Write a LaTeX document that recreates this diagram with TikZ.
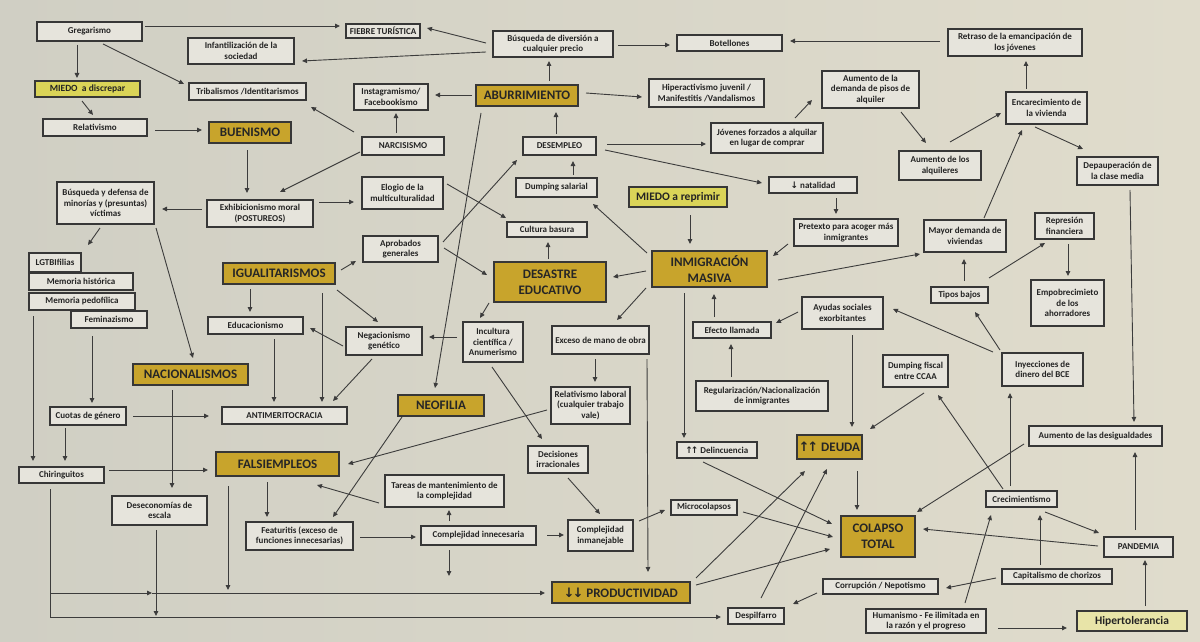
\documentclass[tikz,border=0pt]{standalone}
\usepackage{fontspec}
\setmainfont{Carlito}
\newfontfamily\arrf{DejaVu Sans}
\usetikzlibrary{arrows.meta}
\definecolor{bgl}{RGB}{208,207,196}
\definecolor{bgr}{RGB}{224,220,204}
\definecolor{boxc}{RGB}{230,228,220}
\definecolor{linec}{RGB}{55,55,55}
\definecolor{arrc}{RGB}{60,60,60}
\definecolor{txtc}{RGB}{35,35,35}
\definecolor{goldc}{RGB}{200,164,44}
\definecolor{ylw}{RGB}{218,212,88}
\definecolor{pale}{RGB}{232,228,168}
\tikzset{
 box/.style={draw=linec,line width=1.1pt,fill=boxc,text=txtc,align=center,inner sep=1pt,font=\bfseries\fontsize{9}{10.6}\selectfont},
 gold/.style={box,fill=goldc,text=black!85,font=\bfseries\fontsize{13}{16}\selectfont},
 miedoA/.style={box,fill=ylw,font=\bfseries\fontsize{9.5}{11}\selectfont},
 miedoB/.style={box,fill=ylw,font=\bfseries\fontsize{11.5}{13}\selectfont},
 miedoC/.style={box,fill=pale,font=\bfseries\fontsize{11.5}{13}\selectfont},
 arr/.style={draw=arrc,line width=0.9pt,-{Triangle[length=5pt,width=4.5pt]}},
 ln/.style={draw=arrc,line width=0.9pt},
}
\newcommand\bxn[7]{\node[#1,minimum width=#5pt,minimum height=#6pt] (#2) at (#3,#4) {#7};}
\newcommand\cnx[4]{\draw[arr] ([shift={#2}]#1.center) -- ([shift={#4}]#3.center);}
\newcommand\upup{{\arrf\kern-0.5pt↑\kern-2pt↑}}
\newcommand\dndn{{\arrf\kern-0.5pt↓\kern-2pt↓}}
\begin{document}
\begin{tikzpicture}[x=1pt,y=-1pt]
\useasboundingbox (0,0) rectangle (1200,642);
\fill[left color=bgl,right color=bgr] (0,0) rectangle (1200,642);
% nodes
\bxn{box}{greg}{89.5}{31.5}{105}{19}{Gregarismo}
\bxn{box}{infant}{241}{51}{106}{26}{Infantilización de la\\sociedad}
\bxn{miedoA}{miedo1}{87.5}{89}{105}{16}{MIEDO \ a discrepar}
\bxn{box}{tribal}{247.5}{91.5}{117}{17}{Tribalismos /Identitarismos}
\bxn{box}{relat}{95}{127.5}{104}{17}{Relativismo}
\bxn{gold}{buen}{250}{132.5}{82}{21}{BUENISMO}
\bxn{box}{busq}{105.5}{203}{97}{42}{Búsqueda y defensa de\\minorías y (presuntas)\\víctimas}
\bxn{box}{exhib}{260}{213.5}{106}{27}{Exhibicionismo moral\\(POSTUREOS)}
\bxn{box}{fiebre}{383}{31}{74}{14}{FIEBRE TURÍSTICA}
\bxn{box}{divers}{553}{44}{120}{26}{Búsqueda de diversión a\\cualquier precio}
\bxn{box}{insta}{391}{97}{74}{26}{Instagramismo/\\Facebookismo}
\bxn{gold}{abur}{527}{95.5}{102}{21}{ABURRIMIENTO}
\bxn{box}{narc}{403}{146}{82}{18}{NARCISISMO}
\bxn{box}{desem}{559.5}{146}{73}{18}{DESEMPLEO}
\bxn{box}{elogio}{402.5}{193}{81}{32}{Elogio de la\\multiculturalidad}
\bxn{box}{dumps}{556.5}{187.5}{81}{19}{Dumping salarial}
\bxn{box}{botel}{729.5}{43}{105}{16}{Botellones}
\bxn{box}{hiper}{706.5}{93}{115}{28}{Hiperactivismo juvenil /\\Manifestitis /Vandalismos}
\bxn{box}{demalq}{870.5}{89.5}{97}{37}{Aumento de la\\demanda de pisos de\\alquiler}
\bxn{box}{jovenes}{767}{138}{112}{30}{Jóvenes forzados a alquilar\\en lugar de comprar}
\bxn{box}{natal}{813}{185}{88}{16}{{\arrf↓} natalidad}
\bxn{miedoB}{miedo2}{678}{197}{98}{20}{MIEDO a reprimir}
\bxn{box}{retraso}{1015}{42.5}{134}{27}{Retraso de la emancipación de\\los jóvenes}
\bxn{box}{encar}{1046.5}{108}{81}{32}{Encarecimiento de\\la vivienda}
\bxn{box}{aumalq}{940}{165.5}{82}{29}{Aumento de los\\alquileres}
\bxn{box}{depaup}{1117.5}{171}{81}{28}{Depauperación de\\la clase media}
\bxn{box}{lgtb}{55}{262.5}{52}{19}{LGTBIfilias}
\bxn{box}{memh}{81}{281.5}{104}{17}{Memoria histórica}
\bxn{box}{memp}{82}{301.5}{106}{17}{Memoria pedofílica}
\bxn{box}{femi}{109}{319.5}{76}{17}{Feminazismo}
\bxn{gold}{igual}{279}{273.5}{112}{21}{IGUALITARISMOS}
\bxn{box}{educ}{255.5}{325.5}{95}{17}{Educacionismo}
\bxn{gold}{nacio}{190.5}{374.5}{115}{21}{NACIONALISMOS}
\bxn{box}{cuotas}{88}{416}{76}{18}{Cuotas de género}
\bxn{box}{antim}{284.5}{415.5}{125}{17}{ANTIMERITOCRACIA}
\bxn{box}{cultura}{547}{229.5}{80}{15}{Cultura basura}
\bxn{box}{aprob}{400.5}{249}{75}{26}{Aprobados\\generales}
\bxn{gold}{desas}{550}{282}{112}{40}{DESASTRE\\EDUCATIVO}
\bxn{box}{negac}{384}{341}{76}{28}{Negacionismo\\genético}
\bxn{box}{incult}{493}{342}{60}{40}{Incultura\\científica /\\Anumerismo}
\bxn{gold}{neof}{441}{405.5}{86}{21}{NEOFILIA}
\bxn{box}{exceso}{600.5}{340}{97}{28}{Exceso de mano de obra}
\bxn{box}{rellab}{590.5}{405.5}{79}{37}{Relativismo laboral\\(cualquier trabajo\\vale)}
\bxn{gold}{inmig}{709.5}{269}{115}{36}{INMIGRACIÓN\\MASIVA}
\bxn{box}{pretex}{846}{232.5}{104}{27}{Pretexto para acoger más\\inmigrantes}
\bxn{box}{ayudas}{842.5}{313}{81}{32}{Ayudas sociales\\exorbitantes}
\bxn{box}{efecto}{732}{330}{78}{16}{Efecto llamada}
\bxn{box}{regul}{762}{396}{132}{30}{Regularización/Nacionalización\\de inmigrantes}
\bxn{box}{mayor}{965}{236}{82}{32}{Mayor demanda de\\viviendas}
\bxn{box}{repres}{1064.5}{226}{59}{26}{Represión\\financiera}
\bxn{box}{tipos}{959.5}{295}{57}{16}{Tipos bajos}
\bxn{box}{empob}{1067.5}{303}{73}{46}{Empobrecimieto\\de los\\ahorradores}
\bxn{box}{dumpf}{915.5}{371}{65}{32}{Dumping fiscal\\entre CCAA}
\bxn{box}{inyec}{1042.5}{369.5}{81}{33}{Inyecciones de\\dinero del BCE}
\bxn{box}{desig}{1095.5}{436}{133}{20}{Aumento de las desigualdades}
\bxn{box}{chir}{61.5}{475}{85}{16}{Chiringuitos}
\bxn{gold}{falsi}{277.5}{464}{123}{24}{FALSIEMPLEOS}
\bxn{box}{desec}{159.5}{510.5}{95}{29}{Deseconomías de\\escala}
\bxn{box}{featu}{299.5}{536}{107}{28}{Featuritis (exceso de\\funciones innecesarias)}
\bxn{box}{tareas}{444.5}{491}{119}{32}{Tareas de mantenimiento de\\la complejidad}
\bxn{box}{compinn}{478.5}{535.5}{115}{19}{Complejidad innecesaria}
\bxn{box}{decis}{558}{459.5}{60}{27}{Decisiones\\irracionales}
\bxn{box}{compinm}{600.5}{535.5}{65}{31}{Complejidad\\inmanejable}
\bxn{gold}{produc}{621}{592.5}{138}{21}{\dndn\ PRODUCTIVIDAD}
\bxn{box}{delinc}{717}{450}{80}{16}{\upup\ Delincuencia}
\bxn{box}{micro}{704}{507.5}{66}{15}{Microcolapsos}
\bxn{gold}{deuda}{829.5}{447}{65}{24}{\upup\ DEUDA}
\bxn{gold}{colapso}{878}{536.5}{74}{41}{COLAPSO\\TOTAL}
\bxn{box}{corrup}{880.5}{586.5}{115}{15}{Corrupción / Nepotismo}
\bxn{box}{despil}{756}{616}{56}{16}{Despilfarro}
\bxn{box}{human}{926}{621}{120}{24}{Humanismo - Fe ilimitada en\\la razón y el progreso}
\bxn{box}{crec}{1021.5}{499}{71}{16}{Crecimientismo}
\bxn{box}{pandem}{1138.5}{547}{69}{20}{PANDEMIA}
\bxn{box}{capit}{1057}{576.5}{110}{15}{Capitalismo de chorizos}
\bxn{miedoC}{hipert}{1132}{621}{110}{20}{Hipertolerancia}
% free ends
\coordinate (bl) at (50,617);
\coordinate (ml) at (50,593);
\coordinate (mj) at (152,593);
\coordinate (dsb) at (156,616);
\coordinate (fsb) at (228,590);
\coordinate (cib) at (449,576);
% connectors
\cnx{greg}{(55.5,-5.5)}{fiebre}{(-43,-5)}
\cnx{greg}{(-12.5,13.5)}{miedo1}{(-10.5,-11)}
\cnx{greg}{(13.5,12.5)}{tribal}{(-63.5,-7.5)}
\cnx{miedo1}{(-5.5,12)}{relat}{(-2,-12.5)}
\cnx{relat}{(60,2.5)}{buen}{(-48,-2.5)}
\cnx{buen}{(-3,17.5)}{exhib}{(-13,-20.5)}
\cnx{exhib}{(-58,-4.5)}{busq}{(56.5,6)}
\cnx{narc}{(-43,6)}{exhib}{(20,-21.5)}
\cnx{narc}{(-49,-14)}{tribal}{(63.5,15.5)}
\cnx{narc}{(-7,-13)}{insta}{(5,16)}
\cnx{abur}{(-55,-0.5)}{insta}{(44,-2)}
\cnx{abur}{(22,-14.5)}{divers}{(-4,17)}
\cnx{abur}{(59,-2.5)}{hiper}{(-64.5,4)}
\cnx{desem}{(-3.5,-12)}{abur}{(29,16.5)}
\cnx{divers}{(-67,-1)}{fiebre}{(44,-3)}
\cnx{divers}{(-67,8)}{infant}{(61,10)}
\cnx{divers}{(65,1)}{botel}{(-59.5,2)}
\cnx{retraso}{(-75,-1.5)}{botel}{(60.5,-2)}
\cnx{encar}{(-20.5,-19)}{retraso}{(11,18.5)}
\cnx{demalq}{(30.5,22.5)}{aumalq}{(-14,-22.5)}
\cnx{aumalq}{(10,-23.5)}{encar}{(-45.5,5)}
\cnx{encar}{(-11.5,19)}{depaup}{(-34.5,-22)}
\cnx{mayor}{(19,-18)}{encar}{(-24.5,22)}
\cnx{jovenes}{(28,-20)}{demalq}{(-58.5,10.5)}
\cnx{desem}{(47.5,-2)}{jovenes}{(-61,6)}
\cnx{desem}{(45.5,4)}{natal}{(-51,-2)}
\cnx{natal}{(23,13)}{pretex}{(-10,-18.5)}
\cnx{pretex}{(-58,11.5)}{inmig}{(63.5,-13)}
\cnx{miedo2}{(12,18)}{inmig}{(-19.5,-25)}
\cnx{inmig}{(-63.5,2)}{desas}{(63,-5)}
\cnx{inmig}{(-62.5,-16)}{dumps}{(36.5,16.5)}
\cnx{inmig}{(-63.5,19)}{exceso}{(16.5,-20)}
\cnx{inmig}{(68.5,11)}{mayor}{(-45,18)}
\cnx{inmig}{(-25.5,24)}{delinc}{(-33,-12)}
\cnx{efecto}{(-18,-13)}{inmig}{(4.5,25)}
\cnx{regul}{(-31,-19)}{efecto}{(-1,14)}
\cnx{ayudas}{(-44.5,-1)}{efecto}{(44,-7)}
\cnx{ayudas}{(9.5,22)}{deuda}{(22.5,-20)}
\cnx{dumpf}{(8.5,22)}{deuda}{(40.5,-18)}
\cnx{inyec}{(-42.5,-19.5)}{tipos}{(15.5,17)}
\cnx{inyec}{(-49.5,-17.5)}{ayudas}{(50.5,-4)}
\cnx{tipos}{(4.5,-14)}{mayor}{(-1,23)}
\cnx{tipos}{(29.5,-17)}{repres}{(-19.5,17)}
\cnx{repres}{(3.5,18)}{empob}{(0.5,-27)}
\cnx{depaup}{(12.5,19)}{desig}{(38.5,-14)}
\cnx{crec}{(-11.5,-13)}{inyec}{(-32.5,23.5)}
\cnx{crec}{(-18.5,-10)}{dumpf}{(22.5,24)}
\cnx{desig}{(-71.5,8)}{colapso}{(39,-24.5)}
\cnx{pandem}{(-40.5,-1)}{colapso}{(45,-7.5)}
\cnx{crec}{(23.5,13)}{pandem}{(-39.5,-14)}
\cnx{capit}{(-17,-11.5)}{crec}{(18.5,16)}
\cnx{capit}{(-61,1.5)}{corrup}{(65.5,1.5)}
\cnx{human}{(39,-18)}{crec}{(-30.5,16)}
\cnx{human}{(72,7)}{hipert}{(-65,7)}
\cnx{hipert}{(13,-15)}{pandem}{(6.5,13)}
\cnx{pandem}{(-3.5,-17)}{desig}{(39.5,16)}
\cnx{deuda}{(27.5,24)}{colapso}{(-21,-26.5)}
\cnx{delinc}{(-14,12)}{colapso}{(-46,-12.5)}
\cnx{micro}{(39,4.5)}{colapso}{(-45,0.5)}
\cnx{produc}{(75,-7.5)}{colapso}{(-48,12.5)}
\cnx{produc}{(75,-14.5)}{deuda}{(-24.5,24)}
\cnx{despil}{(5,-18)}{deuda}{(-2.5,22)}
\cnx{corrup}{(-63.5,6.5)}{despil}{(37,-12)}
\cnx{compinm}{(38.5,-14.5)}{micro}{(-39,2.5)}
\cnx{compinn}{(68.5,-0.5)}{compinm}{(-36.5,-0.5)}
\cnx{decis}{(10,18.5)}{compinm}{(-0.5,-21.5)}
\cnx{compinn}{(-29.5,-14.5)}{tareas}{(4.5,19)}
\cnx{featu}{(60.5,1)}{compinn}{(-62.5,1.5)}
\cnx{tareas}{(-65.5,12)}{falsi}{(39.5,21)}
\cnx{rellab}{(-43.5,4.5)}{falsi}{(70.5,0)}
\cnx{neof}{(-39,11.5)}{featu}{(33.5,-19)}
\cnx{falsi}{(-10.5,18)}{featu}{(-32.5,-19)}
\cnx{chir}{(47.5,-5)}{falsi}{(-69.5,6)}
\cnx{femi}{(-17,16.5)}{cuotas}{(4,-13)}
\cnx{cuotas}{(45,0)}{antim}{(-75.5,0.5)}
\cnx{busq}{(-5.5,25)}{lgtb}{(33,-17.5)}
\cnx{busq}{(50.5,25)}{nacio}{(2.5,-16.5)}
\cnx{igual}{(-29,15.5)}{educ}{(-5.5,-13.5)}
\cnx{educ}{(18.5,13.5)}{antim}{(-10.5,-13.5)}
\cnx{negac}{(-41,5)}{educ}{(54.5,2.5)}
\cnx{negac}{(-12,18)}{antim}{(48.5,-14.5)}
\cnx{igual}{(43,19.5)}{antim}{(37.5,-13.5)}
\cnx{igual}{(62,-3.5)}{aprob}{(-44.5,12)}
\cnx{igual}{(58,16.5)}{negac}{(-6,-19)}
\cnx{aprob}{(43.5,-1)}{desas}{(-63,-7)}
\cnx{aprob}{(42.5,-7)}{desem}{(-42.5,14)}
\cnx{elogio}{(44.5,-9)}{cultura}{(-41,-11.5)}
\cnx{exhib}{(59,-11.5)}{elogio}{(-48.5,9)}
\cnx{abur}{(-46,17.5)}{neof}{(-6,-17.5)}
\cnx{desas}{(-2,-23)}{cultura}{(1,12.5)}
\cnx{desas}{(-61,21)}{incult}{(-13,-24)}
\cnx{incult}{(-36,-5)}{negac}{(45,-4)}
\cnx{incult}{(-1,25)}{decis}{(-16,-20.5)}
\cnx{exceso}{(-5.5,19)}{rellab}{(4.5,-23.5)}
\cnx{exceso}{(46.5,19)}{produc}{(27,-20.5)}
\cnx{dumps}{(16.5,-12.5)}{desem}{(13.5,15)}
\cnx{memp}{(-49,14.5)}{chir}{(-28.5,-14)}
\cnx{cuotas}{(-23,12)}{chir}{(3.5,-14)}
\cnx{nacio}{(-18.5,15.5)}{desec}{(12.5,-22.5)}
% bottom routing
\draw[ln] ([shift={(-11.5,14)}]chir.center) -- (bl);
\draw[arr] (ml) -- (mj);
\draw[arr] (mj) -- ([shift={(-76,0.5)}]produc.center);
\draw[arr] (bl) -- ([shift={(-35,1)}]despil.center);
\draw[arr] ([shift={(-3.5,19.5)}]desec.center) -- (dsb);
\draw[arr] ([shift={(-49.5,22)}]falsi.center) -- (fsb);
\draw[arr] ([shift={(-29.5,14.5)}]compinn.center) -- (cib);
\end{tikzpicture}
\end{document}
